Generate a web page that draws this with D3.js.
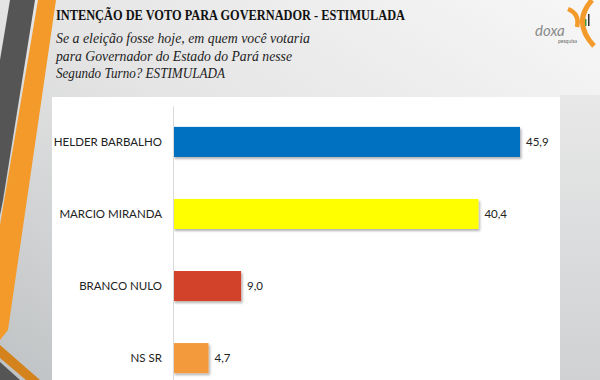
<!DOCTYPE html>
<html><head><meta charset="utf-8">
<script src="https://cdn.jsdelivr.net/npm/d3@7"></script>
<style>html,body{margin:0;padding:0;overflow:hidden;background:#fff}</style>
</head><body>
<svg id="c" width="600" height="380"></svg>
<script>
const categories = ["HELDER BARBALHO", "MARCIO MIRANDA", "BRANCO NULO", "NS SR"];
const values = [45.9, 40.4, 9.0, 4.7];
const valueLabels = ["45,9", "40,4", "9,0", "4,7"];
const barColors = ["#0070C0", "#FFFF00", "#D2432A", "#F39A3E"];
const title = "INTENÇÃO DE VOTO PARA GOVERNADOR - ESTIMULADA";
const subtitle = ["Se a eleição fosse hoje, em quem você votaria", "para Governador do Estado do Pará nesse", "Segundo Turno? ESTIMULADA"];

const svg = d3.select("#c");
const defs = svg.append("defs");
const bg = defs.append("linearGradient").attr("id","bg").attr("x1","1").attr("y1","0").attr("x2","0").attr("y2","1");
bg.append("stop").attr("offset","0").attr("stop-color","#f7f7f7");
bg.append("stop").attr("offset","0.5").attr("stop-color","#e4e4e4");
bg.append("stop").attr("offset","1").attr("stop-color","#bfc2c4");
svg.append("rect").attr("width",600).attr("height",380).attr("fill","url(#bg)");

const rg = defs.append("linearGradient").attr("id","rg").attr("x1","0").attr("y1","0").attr("x2","0").attr("y2","1");
rg.append("stop").attr("offset","0").attr("stop-color","#e8e8e8");
rg.append("stop").attr("offset","1").attr("stop-color","#cfd1d3");
svg.append("rect").attr("x",560).attr("y",95).attr("width",40).attr("height",285).attr("fill","url(#rg)");

// left decorative stripes
svg.append("path").attr("d","M10,0 L35,0 L3,200 L0,215 L0,60 Z").attr("fill","#555555");
svg.append("path").attr("d","M38,0 L56,0 L8,330 L0,340 L0,225 Z").attr("fill","#F39A2A");
svg.append("path").attr("d","M0,345 L0,358 L26,380 L40,380 Z").attr("fill","#D4821C");
svg.append("path").attr("d","M0,362 L0,380 L20,380 Z").attr("fill","#555555");

// logo
const lg = svg.append("g");
lg.append("path").attr("d","M592,0 Q572,22 594,46").attr("fill","none").attr("stroke","#F39A2A").attr("stroke-width",5);
lg.append("path").attr("d","M568,9 Q580,14 577,27").attr("fill","none").attr("stroke","#F39A2A").attr("stroke-width",4.5);
lg.append("rect").attr("x",585).attr("y",19).attr("width",1.5).attr("height",7).attr("fill","#4a9a3a");
lg.append("rect").attr("x",588).attr("y",14).attr("width",1.5).attr("height",12).attr("fill","#333");
lg.append("text").attr("x",535).attr("y",36).attr("font-family","Lato, sans-serif").attr("font-size",15).attr("fill","#8a8a8a").attr("font-style","italic").text("doxa");
lg.append("text").attr("x",558).attr("y",43).attr("font-family","Lato, sans-serif").attr("font-size",5).attr("fill","#666").text("pesquisa");

// titles
svg.append("text").attr("x",56).attr("y",20).attr("font-family","'Liberation Serif', serif").attr("font-weight","bold")
  .attr("font-size",15.5).attr("fill","#111").attr("textLength",349).attr("lengthAdjust","spacingAndGlyphs").text(title);
const subW = [254, 236, 169];
subtitle.forEach((s,i)=>{
  svg.append("text").attr("x",56).attr("y",43+i*17.5).attr("font-family","'Liberation Serif', serif").attr("font-style","italic")
    .attr("font-size",15.5).attr("fill","#222").attr("textLength",subW[i]).attr("lengthAdjust","spacingAndGlyphs").text(s);
});

// white panel
svg.append("rect").attr("x",52).attr("y",97).attr("width",508).attr("height",290).attr("fill","#ffffff");

// scales
const x = d3.scaleLinear().domain([0,50]).range([173, 551]);
const y = d3.scaleBand().domain(categories).range([106,394]).paddingInner(0.583).paddingOuter(0.29);

const f = defs.append("filter").attr("id","sh").attr("x","-5%").attr("y","-20%").attr("width","115%").attr("height","160%");
f.append("feDropShadow").attr("dx",1.5).attr("dy",2).attr("stdDeviation",1.2).attr("flood-color","#000").attr("flood-opacity",0.3);

const data = categories.map((c,i)=>({c, v:values[i], l:valueLabels[i], col:barColors[i]}));

svg.append("g").selectAll("rect").data(data).join("rect")
  .attr("x", x(0)).attr("y", d=>y(d.c)).attr("width", d=>x(d.v)-x(0)).attr("height", y.bandwidth())
  .attr("fill", d=>d.col).attr("filter","url(#sh)");

const ax = svg.append("g").attr("transform",`translate(${x(0)},0)`)
  .call(d3.axisLeft(y).tickSize(0).tickPadding(11));
ax.select(".domain").attr("stroke","#d9d9d9").attr("stroke-width",1);
ax.selectAll("text").attr("font-family","Lato, sans-serif").attr("font-size",11.5).attr("fill","#222");

svg.append("g").selectAll("text").data(data).join("text")
  .attr("x", d=>x(d.v)+6).attr("y", d=>y(d.c)+y.bandwidth()/2+4)
  .attr("font-family","Lato, sans-serif").attr("font-size",11.5).attr("fill","#222").text(d=>d.l);
</script>
</body></html>
